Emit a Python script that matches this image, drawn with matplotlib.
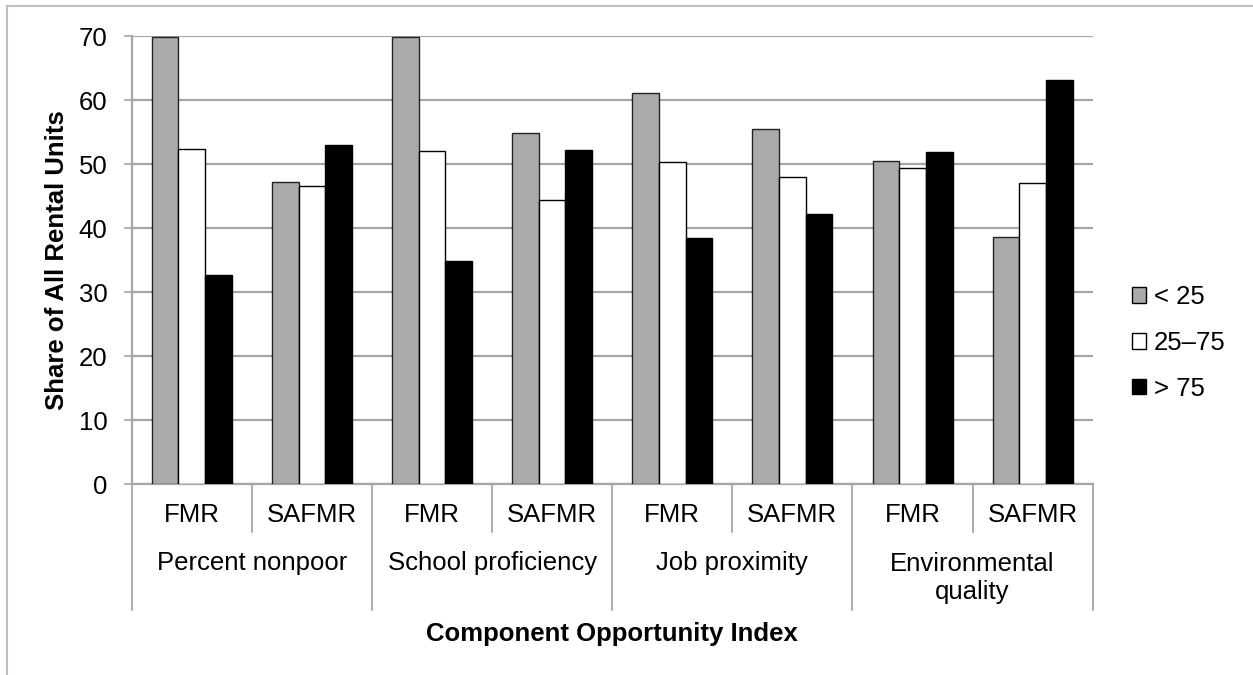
import matplotlib
matplotlib.use("Agg")
import matplotlib.pyplot as plt
from matplotlib.transforms import blended_transform_factory
from matplotlib.patches import Patch
from matplotlib.lines import Line2D
import numpy as np

plt.rcParams['font.family'] = ['Liberation Sans', 'DejaVu Sans']

groups = ["Percent nonpoor", "School proficiency", "Job proximity", "Environmental\nquality"]
subcats = ["FMR", "SAFMR"]
series_names = ["< 25", "25\u201375", "> 75"]
lt25 = [69.8, 47.2, 69.9, 54.9, 61.1, 55.5, 50.5, 38.6]
mid = [52.4, 46.5, 52.0, 44.3, 50.3, 48.0, 49.4, 47.1]
gt75 = [32.7, 52.9, 34.9, 52.2, 38.4, 42.2, 51.9, 63.2]
yticks = [0, 10, 20, 30, 40, 50, 60, 70]

FS = 18.5
W, H = 1253, 675
fig = plt.figure(figsize=(W / 100, H / 100), dpi=100)
fig.patch.set_facecolor('white')

L, R, B, T = 131.7, 1092.7, 484.0, 36.0
ax = fig.add_axes([L / W, 1 - B / H, (R - L) / W, (B - T) / H])

gridc = '#a6a6a6'
n = len(lt25)
x = np.arange(n)
bw = 0.222
colors = ['#aaaaaa', 'white', 'black']
edges = ['#222222', 'black', 'black']
for k, vals in enumerate([lt25, mid, gt75]):
    ax.bar(x + (k - 1) * bw, vals, width=bw, color=colors[k], edgecolor=edges[k],
           linewidth=1.0, zorder=3, label=series_names[k])

ax.set_xlim(-0.5, n - 0.5)
ax.set_ylim(0, 70)
ax.set_yticks(yticks)
ax.set_yticklabels([str(v) for v in yticks], fontsize=FS)
ax.yaxis.grid(True, color=gridc, linewidth=1.6, zorder=0)
ax.set_axisbelow(True)
ax.tick_params(axis='y', length=5.5, width=1.2, color=gridc, pad=12)
ax.tick_params(axis='x', length=0, labelbottom=False)
for s in ['top', 'right']:
    ax.spines[s].set_visible(False)
for s in ['left', 'bottom']:
    ax.spines[s].set_color(gridc)
    ax.spines[s].set_linewidth(1.6)

trans = blended_transform_factory(ax.transData, fig.transFigure)
y0 = 1 - B / H
y_short = 1 - 532 / H
y_long = 1 - 610 / H
for i in range(n + 1):
    xp = i - 0.5
    yend = y_long if i % 2 == 0 else y_short
    ax.add_line(Line2D([xp, xp], [y0, yend], transform=trans, color=gridc,
                       linewidth=1.3, clip_on=False))

for i in range(n):
    ax.text(i, 1 - 515 / H, subcats[i % 2], transform=trans, ha='center',
            va='center', fontsize=FS)
for g, name in enumerate(groups):
    yc = 578 if '\n' in name else 563
    ax.text(2 * g + 0.5, 1 - yc / H, name, transform=trans, ha='center',
            va='center', fontsize=FS, linespacing=1.2)

fig.text((L + R) / 2 / W, 1 - 634 / H, "Component Opportunity Index",
         ha='center', va='center', fontsize=FS, fontweight='bold')
fig.text(57 / W, 1 - (B + T) / 2 / H, "Share of All Rental Units", rotation=90,
         ha='center', va='center', fontsize=FS, fontweight='bold')

handles = [Patch(facecolor=colors[k], edgecolor='black', linewidth=1.0)
           for k in range(3)]
fig.legend(handles, series_names, loc='center left',
           bbox_to_anchor=(1132 / W, 1 - 343 / H), frameon=False, fontsize=FS,
           handlelength=0.55, handleheight=0.55, handletextpad=0.3,
           labelspacing=0.85, borderpad=0, borderaxespad=0)

fig.add_artist(Line2D([7 / W, 1], [1 - 6 / H, 1 - 6 / H], transform=fig.transFigure,
                      color='#bfbfbf', linewidth=1.5))
fig.add_artist(Line2D([7 / W, 7 / W], [0, 1 - 6 / H], transform=fig.transFigure,
                      color='#bfbfbf', linewidth=1.5))

fig.savefig("out.png", dpi=100, facecolor='white')
